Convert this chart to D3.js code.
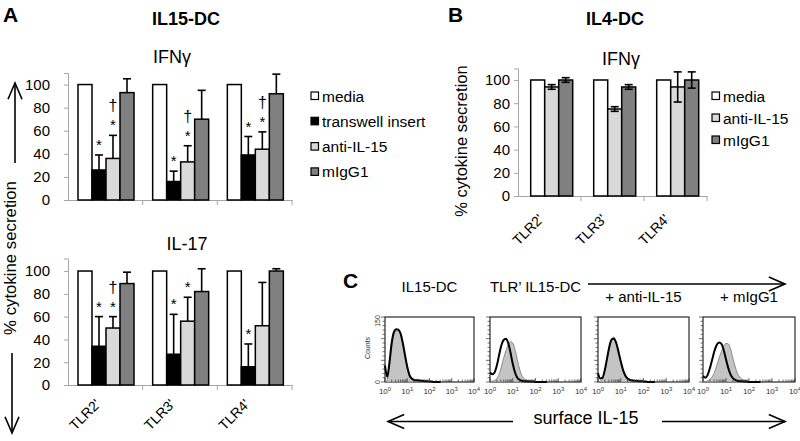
<!DOCTYPE html>
<html><head><meta charset="utf-8">
<script src="https://cdn.jsdelivr.net/npm/d3@7"></script>
<style>body{margin:0;background:#fff}svg{display:block}</style>
</head><body><svg id="c" width="800" height="441"></svg>
<script>
// ---------- data ----------
const groups = ["TLR2'", "TLR3'", "TLR4'"];
const yTicks = [0, 20, 40, 60, 80, 100];
const seriesA = ["media", "transwell insert", "anti-IL-15", "mIgG1"];
const seriesB = ["media", "anti-IL-15", "mIgG1"];
const seriesColors = ["#ffffff", "#000000", "#d9d9d9", "#808080"];
const seriesColorsB = ["#ffffff", "#d9d9d9", "#808080"];

// Panel A, IFNγ
const ifnMedia = [100, 100, 100];
const ifnTranswell = [26, 16, 39];
const ifnAnti = [36, 33, 44];
const ifnIgG = [93, 70, 92];
const ifnTranswellErr = [13, 9, 16];
const ifnAntiErr = [20, 14, 15];
const ifnIgGErr = [12, 25, 17];
const ifnSigTranswell = ["*", "*", "*"];
const ifnSigAnti = ["*†", "*†", "*†"];

// Panel A, IL-17
const il17Media = [100, 100, 100];
const il17Transwell = [34, 27, 16];
const il17Anti = [50, 56, 52];
const il17IgG = [89, 82, 100];
const il17TranswellErr = [26, 35, 20];
const il17AntiErr = [10, 21, 38];
const il17IgGErr = [10, 20, 2];
const il17SigTranswell = ["*", "*", "*"];
const il17SigAnti = ["*†", "*", ""];

// Panel B, IFNγ
const bMedia = [100, 100, 100];
const bAnti = [94, 75, 94];
const bIgG = [100, 94, 100];
const bAntiErr = [2, 2, 13];
const bIgGErr = [2, 2, 7];

// Panel C histograms (log10 fluorescence grid, counts)
const histLog = [0,0.1,0.2,0.3,0.4,0.5,0.6,0.7,0.8,0.9,1.0,1.1,1.2,1.3,1.4,1.5,1.6,1.7,1.8,1.9,2.0,2.1,2.2,2.3,2.4,2.5];
const histTitles = ["IL15-DC", "TLR\u2019 IL15-DC", "+ anti-IL-15", "+ mIgG1"];
const h1Gray  = [0,5,35,80,108,118,118,108,85,55,30,12,6,3,2,2,1,1,1,0,0,0,0,0,0,0];
const h1Black = [38,12,45,90,115,122,121,112,90,62,35,16,8,5,4,4,3,3,2,2,1,1,0,0,0,0];
const h2Gray  = [0,2,4,8,18,35,55,72,86,93,90,75,52,30,15,8,5,3,2,1,1,0,0,0,0,0];
const h2Black = [22,18,22,38,62,85,97,100,90,68,42,22,10,5,3,2,2,1,1,1,0,0,0,0,0,0];
const h3Gray  = [0,2,6,24,52,80,100,104,90,68,45,25,12,6,4,3,2,2,1,1,0,0,0,0,0,0];
const h3Black = [20,8,10,28,55,82,98,100,90,70,48,28,15,8,5,4,3,3,2,2,1,1,0,0,0,0];
const h4Gray  = [0,1,3,6,12,22,38,55,70,82,89,88,76,55,35,20,11,6,4,2,1,0,0,0,0,0];
const h4Black = [14,10,16,32,52,72,86,91,88,74,52,32,17,9,5,3,2,2,1,1,0,0,0,0,0,0];
const histDecades = [0, 1, 2, 3, 4];

// ---------- drawing ----------
const FONT = "'Liberation Sans', Arial, Helvetica, sans-serif";
const svg = d3.select("#c").attr("font-family", FONT);

function txt(x, y, s, size, opts = {}) {
  const t = svg.append("text").attr("x", x).attr("y", y).text(s)
    .attr("font-size", size).attr("fill", "#000");
  if (opts.bold) t.attr("font-weight", "bold");
  if (opts.anchor) t.attr("text-anchor", opts.anchor);
  if (opts.rotate) t.attr("transform", `rotate(${opts.rotate},${x},${y})`);
  return t;
}

function arrow(x1, y1, x2, y2, head = 9, spread = 7) {
  const g = svg.append("g").attr("stroke", "#000").attr("stroke-width", 1.6).attr("fill", "none");
  g.append("line").attr("x1", x1).attr("y1", y1).attr("x2", x2).attr("y2", y2);
  const a = Math.atan2(y2 - y1, x2 - x1);
  const dx = Math.cos(a), dy = Math.sin(a);
  const bx = x2 - dx * head * 1.8, by = y2 - dy * head * 1.8;
  g.append("path").attr("d",
    `M${bx - dy * spread},${by + dx * spread} L${x2},${y2} L${bx + dy * spread},${by - dx * spread}`);
}

function barChart(cfg) {
  const g = svg.append("g");
  const x = d3.scaleBand().domain(groups).range([cfg.left, cfg.right]);
  const xs = d3.scaleBand().domain(cfg.series).range(cfg.inner);
  const y = d3.scaleLinear().domain([0, cfg.yMax]).range([cfg.bottom, cfg.top]);

  const ya = g.append("g").attr("transform", `translate(${cfg.left},0)`)
    .call(d3.axisLeft(y).tickValues(yTicks).tickSize(4).tickPadding(cfg.pad));
  ya.select(".domain").attr("stroke", "#a6a6a6").attr("stroke-width", 1);
  ya.selectAll(".tick line").attr("stroke", "#a6a6a6");
  ya.selectAll(".tick text").attr("font-size", 15).attr("fill", "#000").attr("font-family", FONT);

  const xa = g.append("g").attr("transform", `translate(0,${cfg.bottom})`)
    .call(d3.axisBottom(x).tickSize(0).tickPadding(0));
  xa.select(".domain").attr("stroke", "#a6a6a6").attr("stroke-width", 1);
  const bounds = groups.map(d => x(d) + x.bandwidth());
  g.selectAll(".bt").data(bounds).enter().append("line")
    .attr("x1", d => d).attr("x2", d => d).attr("y1", cfg.bottom).attr("y2", cfg.bottom + 5)
    .attr("stroke", "#a6a6a6");
  if (cfg.showX) {
    xa.selectAll(".tick text").attr("font-size", 14).attr("fill", "#000").attr("font-family", FONT)
      .attr("y", 0).attr("dy", 0).attr("text-anchor", "end")
      .attr("transform", `translate(${cfg.xlab[0]},${cfg.xlab[1]}) rotate(-45)`);
  } else {
    xa.selectAll(".tick text").remove();
  }

  const rows = cfg.series.map((s, i) => ({ name: s, color: cfg.colors[i], vals: cfg.values[i], errs: cfg.errs[i], sig: cfg.sig[i] }));
  rows.forEach(r => {
    groups.forEach((gname, j) => {
      const bx = x(gname) + xs(r.name), bw = xs.bandwidth();
      const v = r.vals[j], e = r.errs ? r.errs[j] : 0;
      const cx = bx + bw / 2;
      if (e > 0 && !cfg.bothErr) {
        const eg = g.append("g").attr("stroke", "#000").attr("stroke-width", 1.6);
        eg.append("line").attr("x1", cx).attr("x2", cx).attr("y1", y(v)).attr("y2", y(v + e));
        eg.append("line").attr("x1", cx - 4).attr("x2", cx + 4).attr("y1", y(v + e)).attr("y2", y(v + e));
      }
      g.append("rect").attr("x", bx).attr("y", y(v)).attr("width", bw).attr("height", y(0) - y(v))
        .attr("fill", r.color).attr("stroke", "#000").attr("stroke-width", 1.5);
      if (cfg.bothErr && e > 0) {
        const eg = g.append("g").attr("stroke", "#000").attr("stroke-width", 1.6);
        eg.append("line").attr("x1", cx).attr("x2", cx).attr("y1", y(v - e)).attr("y2", y(v + e));
        eg.append("line").attr("x1", cx - 4).attr("x2", cx + 4).attr("y1", y(v + e)).attr("y2", y(v + e));
        eg.append("line").attr("x1", cx - 4).attr("x2", cx + 4).attr("y1", y(v - e)).attr("y2", y(v - e));
      }
      const s = r.sig ? r.sig[j] : "";
      if (s) {
        let by = y(v + e) - 5;
        [...s].forEach(ch => {
          g.append("text").attr("x", cx).attr("y", by).attr("text-anchor", "middle")
            .attr("font-size", ch === "*" ? 15 : 16).text(ch);
          by -= 19;
        });
      }
    });
  });

  if (cfg.legend) {
    cfg.series.forEach((s, i) => {
      const ly = cfg.legend.y + i * cfg.legend.dy;
      g.append("rect").attr("x", cfg.legend.x).attr("y", ly - 4).attr("width", 7.5).attr("height", 7.5)
        .attr("fill", cfg.colors[i]).attr("stroke", "#000").attr("stroke-width", 1.2);
      g.append("text").attr("x", cfg.legend.x + 11).attr("y", ly + 5.5).attr("font-size", 15.5).text(s);
    });
  }
}

// Panel A
txt(3, 22, "A", 21, { bold: true });
txt(186, 25, "IL15-DC", 18, { bold: true, anchor: "middle" });
txt(172, 63, "IFN\u03b3", 18, { anchor: "middle" });
txt(187, 250, "IL-17", 18, { anchor: "middle" });
txt(16, 258, "% cytokine secretion", 16.8, { anchor: "middle", rotate: -90 });
arrow(15, 163, 15, 83);
arrow(12, 353, 12, 433);

barChart({
  left: 68, right: 292, top: 73, bottom: 200, yMax: 110, inner: [10, 66], pad: 14,
  series: seriesA, colors: seriesColors,
  values: [ifnMedia, ifnTranswell, ifnAnti, ifnIgG],
  errs: [null, ifnTranswellErr, ifnAntiErr, ifnIgGErr],
  sig: [null, ifnSigTranswell, ifnSigAnti, null],
  showX: false, bothErr: false,
  legend: { x: 311, y: 96, dy: 25.3 }
});
barChart({
  left: 68, right: 292, top: 258.5, bottom: 385, yMax: 111, inner: [10, 66], pad: 14,
  series: seriesA, colors: seriesColors,
  values: [il17Media, il17Transwell, il17Anti, il17IgG],
  errs: [null, il17TranswellErr, il17AntiErr, il17IgGErr],
  sig: [null, il17SigTranswell, il17SigAnti, null],
  showX: true, xlab: [-4, 20], bothErr: false
});

// Panel B
txt(448, 22, "B", 21, { bold: true });
txt(615, 25, "IL4-DC", 18, { bold: true, anchor: "middle" });
txt(621, 65, "IFN\u03b3", 18, { anchor: "middle" });
txt(467, 141, "% cytokine secretion", 16.5, { anchor: "middle", rotate: -90 });
barChart({
  left: 518, right: 707, top: 68.4, bottom: 196, yMax: 110, inner: [12.7, 54.7], pad: 4,
  series: seriesB, colors: seriesColorsB,
  values: [bMedia, bAnti, bIgG],
  errs: [null, bAntiErr, bIgGErr],
  sig: [null, null, null],
  showX: true, xlab: [-5, 24], bothErr: true,
  legend: { x: 712, y: 96, dy: 22 }
});

// Panel C
txt(343, 288, "C", 21, { bold: true });
const boxes = [[385, 474], [490, 581], [598, 689], [703, 795]];
const hGray = [h1Gray, h2Gray, h3Gray, h4Gray];
const hBlack = [h1Black, h2Black, h3Black, h4Black];
const titleY = [292, 292, 302, 302];
boxes.forEach((b, i) => {
  const g = svg.append("g");
  const x = d3.scaleLinear().domain([0, 4]).range(b);
  const y = d3.scaleLinear().domain([0, 150]).range([382, 317]);
  g.append("rect").attr("x", b[0]).attr("y", 317).attr("width", b[1] - b[0]).attr("height", 65)
    .attr("fill", "#fff").attr("stroke", "#000").attr("stroke-width", 1);
  const area = d3.area().x((d, k) => x(histLog[k])).y0(y(0)).y1(d => y(d)).curve(d3.curveMonotoneX);
  const line = d3.line().x((d, k) => x(histLog[k])).y(d => y(d)).curve(d3.curveMonotoneX);
  g.append("path").attr("d", area(hGray[i])).attr("fill", "#c4c4c4").attr("stroke", "#8a8a8a").attr("stroke-width", 1);
  g.append("path").attr("d", line(hBlack[i])).attr("fill", "none").attr("stroke", "#000").attr("stroke-width", 2);
  const minor = [];
  for (let dec = 0; dec < 4; dec++) for (let m = 1; m <= 9; m++) minor.push({ v: dec + Math.log10(m), major: m === 1 });
  minor.push({ v: 4, major: true });
  g.selectAll(".mx").data(minor).enter().append("line")
    .attr("x1", d => x(d.v)).attr("x2", d => x(d.v)).attr("y1", 382).attr("y2", d => 382 - (d.major ? 4 : 2.5))
    .attr("stroke", "#333").attr("stroke-width", 0.7);
  const yt = d3.range(0, 151, 10);
  g.selectAll(".my").data(yt).enter().append("line")
    .attr("x1", b[0]).attr("x2", d => b[0] - (d % 50 === 0 ? 4 : 2.5)).attr("y1", d => y(d)).attr("y2", d => y(d))
    .attr("stroke", "#333").attr("stroke-width", 0.7);
  histDecades.forEach(dv => {
    const t = g.append("text").attr("x", x(dv)).attr("y", 394).attr("text-anchor", "middle")
      .attr("font-size", 8).attr("fill", "#333");
    t.append("tspan").text("10");
    t.append("tspan").attr("dy", -3).attr("font-size", 6).text(dv);
  });
  txt((b[0] + b[1]) / 2, titleY[i], histTitles[i], 15, { anchor: "middle" });
});
txt(380, 321, "150", 7, { anchor: "middle", rotate: -90 }).attr("fill", "#333");
txt(380, 382, "0", 7, { anchor: "middle", rotate: -90 }).attr("fill", "#333");
txt(370, 348, "Counts", 7, { anchor: "middle", rotate: -90 }).attr("fill", "#333");

arrow(588, 284, 785, 284);
arrow(513, 421.5, 388, 421.5);
arrow(662, 421.5, 785, 421.5);
txt(586, 424, "surface IL-15", 18, { anchor: "middle" });
</script></body></html>
